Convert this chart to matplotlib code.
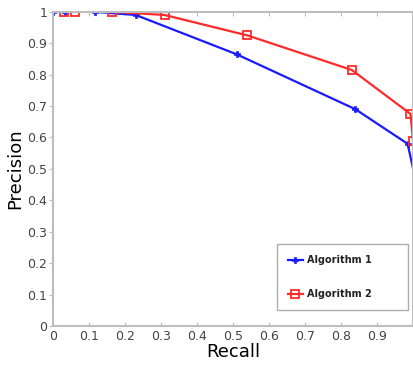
import matplotlib
matplotlib.use("Agg")
import matplotlib.pyplot as plt

# Precision-recall points for the two algorithms
recall_alg1 = [0.0, 0.033, 0.117, 0.23, 0.51, 0.84, 0.985, 1.01]
precision_alg1 = [1.0, 1.0, 1.0, 0.99, 0.865, 0.69, 0.58, 0.45]

recall_alg2 = [0.03, 0.062, 0.165, 0.31, 0.54, 0.83, 0.993, 1.0]
precision_alg2 = [1.0, 1.0, 1.0, 0.99, 0.925, 0.815, 0.675, 0.59]

x_ticks = [0, 0.1, 0.2, 0.3, 0.4, 0.5, 0.6, 0.7, 0.8, 0.9]
y_ticks = [0, 0.1, 0.2, 0.3, 0.4, 0.5, 0.6, 0.7, 0.8, 0.9, 1]
x_labels = ["0", "0.1", "0.2", "0.3", "0.4", "0.5", "0.6", "0.7", "0.8", "0.9"]
y_labels = ["0", "0.1", "0.2", "0.3", "0.4", "0.5", "0.6", "0.7", "0.8", "0.9", "1"]

fig = plt.figure(figsize=(4.13, 3.70), dpi=100)
ax = fig.add_axes([0.128, 0.119, 0.872, 0.849])

ax.plot(recall_alg1, precision_alg1, color="#1a1aff", lw=1.6, marker="P",
        markersize=5, markeredgewidth=0.5, label="Algorithm 1", clip_on=True)
ax.plot(recall_alg2, precision_alg2, color="#ff2a2a", lw=1.6, marker="s",
        markersize=6, markerfacecolor="none", markeredgewidth=1.3,
        label="Algorithm 2", clip_on=True)

ax.set_xlim(0, 1)
ax.set_ylim(0, 1)
ax.set_xticks(x_ticks)
ax.set_xticklabels(x_labels)
ax.set_yticks(y_ticks)
ax.set_yticklabels(y_labels)

for side in ["left", "bottom", "top", "right"]:
    ax.spines[side].set_color("#bdbdbd")
    ax.spines[side].set_linewidth(1.5)

ax.tick_params(axis="x", direction="in", length=3, color="#bdbdbd",
               labelsize=9, labelcolor="#444444", top=True, pad=3)
ax.tick_params(axis="y", direction="out", length=3, color="#bdbdbd",
               labelsize=9, labelcolor="#444444", pad=1)

ax.set_xlabel("Recall", fontsize=13, labelpad=0)
ax.set_ylabel("Precision", fontsize=13, labelpad=2)

leg = ax.legend(loc="lower left", bbox_to_anchor=(0.622, 0.051, 0.364, 0.2),
                mode="expand", frameon=True, fancybox=False,
                labelspacing=2.5, handlelength=1.6, handletextpad=0.4,
                borderpad=1.1, borderaxespad=0.0,
                prop={"weight": "bold", "size": 7})
leg.get_frame().set_edgecolor("#999999")
leg.get_frame().set_linewidth(1.0)
for t in leg.get_texts():
    t.set_color("#222222")

fig.savefig("out.png", dpi=100)
